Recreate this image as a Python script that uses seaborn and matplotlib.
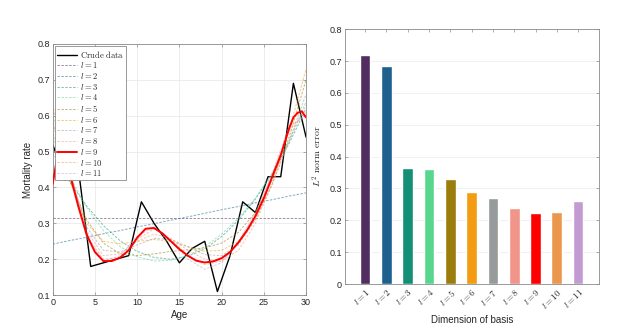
import matplotlib
matplotlib.use("Agg")
import matplotlib.pyplot as plt
import pandas as pd
import seaborn as sns

# Crude mortality data
crude_ages = [0, 1.5, 3, 4.5, 6, 7.5, 9, 10.5, 12, 13.5, 15, 16.5, 18, 19.5, 21, 22.5, 24, 25.5, 27, 28.5, 30]
crude_rate = [0.52, 0.42, 0.46, 0.18, 0.19, 0.20, 0.21, 0.36, 0.30, 0.25, 0.19, 0.23, 0.25, 0.11, 0.21,
              0.36, 0.33, 0.43, 0.43, 0.69, 0.54]

# Fitted curves, sampled every 2 years (faint dashed lines)
fit_ages = [0, 2, 4, 6, 8, 10, 12, 14, 16, 18, 20, 22, 24, 26, 28, 30]
fit_l1 = [0.314] * 16
fit_l2 = [0.242, 0.252, 0.261, 0.271, 0.280, 0.290, 0.299, 0.309, 0.318, 0.328, 0.338, 0.347, 0.357, 0.366, 0.376, 0.385]
fit_l3 = [0.497, 0.416, 0.349, 0.294, 0.251, 0.222, 0.205, 0.200, 0.208, 0.229, 0.263, 0.309, 0.368, 0.439, 0.523, 0.620]
fit_l4 = [0.540, 0.430, 0.345, 0.280, 0.235, 0.207, 0.195, 0.197, 0.210, 0.235, 0.270, 0.315, 0.370, 0.440, 0.530, 0.640]
fit_l5 = [0.580, 0.420, 0.310, 0.245, 0.215, 0.210, 0.215, 0.222, 0.226, 0.232, 0.245, 0.275, 0.330, 0.420, 0.540, 0.700]
fit_l6 = [0.630, 0.420, 0.300, 0.250, 0.243, 0.250, 0.255, 0.250, 0.235, 0.222, 0.225, 0.250, 0.310, 0.410, 0.560, 0.730]
fit_l7 = [0.600, 0.440, 0.290, 0.225, 0.220, 0.240, 0.258, 0.255, 0.235, 0.213, 0.210, 0.240, 0.310, 0.410, 0.530, 0.660]
fit_l8 = [0.550, 0.450, 0.280, 0.210, 0.215, 0.250, 0.270, 0.258, 0.225, 0.200, 0.195, 0.225, 0.300, 0.410, 0.530, 0.630]
fit_l10 = [0.450, 0.450, 0.265, 0.200, 0.205, 0.255, 0.285, 0.255, 0.210, 0.185, 0.195, 0.245, 0.325, 0.435, 0.560, 0.610]
fit_l11 = [0.420, 0.460, 0.260, 0.195, 0.210, 0.265, 0.290, 0.250, 0.200, 0.172, 0.190, 0.250, 0.330, 0.440, 0.570, 0.600]

# Highlighted fit l = 9 (finer sampling)
l9_ages = [0, 0.5, 1, 1.5, 2, 2.5, 3, 4, 5, 6, 7, 8, 9, 10, 11, 12, 13, 14, 15, 16, 17, 18, 19, 20,
           21, 22, 23, 24, 25, 26, 27, 28, 28.5, 29, 29.5, 30]
fit_l9 = [0.41, 0.48, 0.49, 0.47, 0.44, 0.395, 0.35, 0.27, 0.22, 0.195, 0.195, 0.205, 0.225, 0.26, 0.285,
          0.287, 0.272, 0.25, 0.228, 0.21, 0.196, 0.191, 0.194, 0.203, 0.22, 0.247, 0.28, 0.32, 0.37, 0.43,
          0.49, 0.565, 0.595, 0.608, 0.612, 0.595]

# L2 norm error per basis dimension
basis_labels = [rf"$l={i}$" for i in range(1, 12)]
norm_error = [0.72, 0.683, 0.365, 0.36, 0.33, 0.29, 0.27, 0.24, 0.222, 0.227, 0.26]
basis_colors = ["#512E5F", "#1F618D", "#148F77", "#58D68D", "#9A7D0A", "#F39C12",
                "#979A9A", "#F1948A", "#FF0000", "#EB984E", "#C39BD3"]

sns.set_theme(style="ticks")
plt.rcParams["font.family"] = ["Liberation Sans", "DejaVu Sans"]
plt.rcParams["mathtext.fontset"] = "cm"

AX_GRAY = "#8a8a8a"
TXT = "#262626"


def style_axes(ax):
    for s in ax.spines.values():
        s.set_color(AX_GRAY)
        s.set_linewidth(0.6)
    ax.tick_params(direction="in", length=2.5, width=0.5, color=AX_GRAY, labelsize=6.5,
                   labelcolor=TXT, top=True, right=True, pad=2)


fig = plt.figure(figsize=(6.35, 3.35), dpi=100)

# ---- Left: crude data and fits
ax1 = fig.add_axes([0.083, 0.119, 0.399, 0.750])
fits = [fit_l1, fit_l2, fit_l3, fit_l4, fit_l5, fit_l6, fit_l7, fit_l8, None, fit_l10, fit_l11]

sns.lineplot(x=crude_ages, y=crude_rate, ax=ax1, color="black", lw=1.0, label=r"$\mathrm{Crude\ data}$")
for i, vals in enumerate(fits):
    if vals is None:
        sns.lineplot(x=l9_ages, y=fit_l9, ax=ax1, color="#FF0000", lw=1.4, label=basis_labels[i], zorder=5)
    else:
        sns.lineplot(x=fit_ages, y=vals, ax=ax1, color=basis_colors[i], lw=0.7, alpha=0.55,
                     linestyle=(0, (2.5, 1.5)), label=basis_labels[i])

ax1.set_xlim(0, 30)
ax1.set_ylim(0.1, 0.8)
ax1.set_xticks(range(0, 31, 5))
ax1.set_yticks([0.1, 0.2, 0.3, 0.4, 0.5, 0.6, 0.7, 0.8])
ax1.set_yticklabels(["0.1", "0.2", "0.3", "0.4", "0.5", "0.6", "0.7", "0.8"])
ax1.grid(True, color="#e6e6e6", lw=0.5)
ax1.set_axisbelow(True)
ax1.set_xlabel("Age", fontsize=7, color=TXT, labelpad=2)
ax1.set_ylabel("Mortality rate", fontsize=7, color=TXT, labelpad=3)
style_axes(ax1)
leg = ax1.legend(loc="upper left", fontsize=6.2, frameon=True, fancybox=False, framealpha=1,
                 edgecolor=AX_GRAY, borderaxespad=0.3, handlelength=2.3, labelspacing=0.08,
                 borderpad=0.25, handletextpad=0.3)
leg.get_frame().set_linewidth(0.6)
leg.set_zorder(10)

# ---- Right: L2 norm error bars
ax2 = fig.add_axes([0.543, 0.152, 0.400, 0.761])
df = pd.DataFrame({"basis": basis_labels, "error": norm_error})
sns.barplot(data=df, x="basis", y="error", hue="basis", palette=basis_colors, width=0.5,
            saturation=1, legend=False, ax=ax2)
ax2.set_xlim(-0.95, 10.97)
ax2.set_ylim(0, 0.8)
ax2.set_yticks([0, 0.1, 0.2, 0.3, 0.4, 0.5, 0.6, 0.7, 0.8])
ax2.set_yticklabels(["0", "0.1", "0.2", "0.3", "0.4", "0.5", "0.6", "0.7", "0.8"])
ax2.yaxis.grid(True, color="#ececec", lw=0.5)
ax2.set_axisbelow(True)
style_axes(ax2)
for t in ax2.get_xticklabels():
    t.set_rotation(45)
    t.set_ha("right")
    t.set_rotation_mode("anchor")
    t.set_fontsize(6.5)
ax2.set_xlabel("Dimension of basis", fontsize=7, color=TXT, labelpad=3)
ax2.set_ylabel(r"$L^2\ \mathrm{norm\ error}$", fontsize=7, color=TXT, labelpad=4)

fig.savefig("out.png", dpi=100)
